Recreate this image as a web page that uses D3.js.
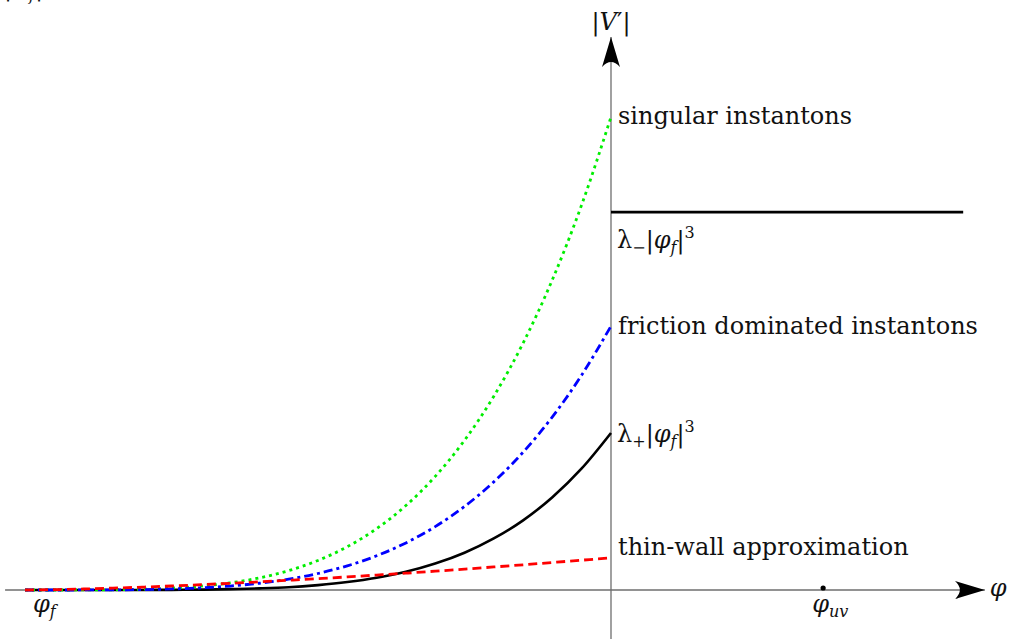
<!DOCTYPE html>
<html>
<head>
<meta charset="utf-8">
<script src="https://cdn.jsdelivr.net/npm/d3@7"></script>
<style>
  body { margin: 0; background: #fff; }
  text { font-family: "DejaVu Serif", "Liberation Serif", serif; fill: #111; }
</style>
</head>
<body>
<svg id="chart" width="1010" height="639"></svg>
<script>
// --- Data ---
// phi measured from 0 (the wall), phi_f = -1
const phiSamples = [-1, -0.95, -0.9, -0.85, -0.8, -0.75, -0.7, -0.65, -0.6, -0.55, -0.5,
  -0.45, -0.4, -0.35, -0.3, -0.25, -0.2, -0.15, -0.1, -0.05, 0];
const singular = [0, 0, 0.0001, 0.0005, 0.0016, 0.0039, 0.0081, 0.015, 0.0256, 0.041, 0.0625,
  0.0915, 0.1296, 0.1785, 0.2401, 0.3164, 0.4096, 0.522, 0.6561, 0.8145, 1.0];
const friction = [0, 0, 0.0001, 0.0003, 0.0009, 0.0022, 0.0045, 0.0084, 0.0143, 0.0229, 0.0349,
  0.0511, 0.0723, 0.0996, 0.134, 0.1766, 0.2286, 0.2913, 0.3661, 0.4545, 0.558];
const lambdaPlus = [0, 0, 0, 0, 0.0001, 0.0003, 0.0008, 0.0019, 0.0034, 0.0058, 0.0104,
  0.0168, 0.0258, 0.0384, 0.0558, 0.0788, 0.109, 0.1473, 0.1961, 0.2569, 0.332];
const thinWall = [0, 0.0008, 0.0021, 0.004, 0.0061, 0.0085, 0.0112, 0.0141, 0.0172, 0.0205, 0.024,
  0.0277, 0.0316, 0.0356, 0.0398, 0.0442, 0.0487, 0.0533, 0.0581, 0.063, 0.068];
const lambdaMinus = 0.799;      // constant level for phi >= 0
const lambdaMinusEnd = 0.601;   // where that line stops
const phiUV = 0.362;

const svg = d3.select("#chart");

const x = d3.scaleLinear().domain([-1, 0]).range([25, 611]);
const y = d3.scaleLinear().domain([0, 1]).range([590, 117]);

const axisColor = "#6e6e6e";

// --- Arrow marker ---
svg.append("defs").append("marker")
  .attr("id", "arrow")
  .attr("viewBox", "0 0 30 20")
  .attr("refX", 30).attr("refY", 10)
  .attr("markerWidth", 30).attr("markerHeight", 20)
  .attr("markerUnits", "userSpaceOnUse")
  .attr("orient", "auto")
  .append("path")
  .attr("d", "M0,1 Q10,10 0,19 L30,10 Z")
  .attr("fill", "#000");

// --- Axes ---
svg.append("line")
  .attr("x1", x(-1.034)).attr("x2", x(0.638))
  .attr("y1", y(0)).attr("y2", y(0))
  .attr("stroke", axisColor).attr("stroke-width", 1.3)
  .attr("marker-end", "url(#arrow)");

svg.append("line")
  .attr("x1", x(0)).attr("x2", x(0))
  .attr("y1", y(-0.104)).attr("y2", y(1.169))
  .attr("stroke", axisColor).attr("stroke-width", 1.3)
  .attr("marker-end", "url(#arrow)");

// --- Curves ---
const line = d3.line()
  .x((d, i) => x(phiSamples[i]))
  .y(d => y(d))
  .curve(d3.curveMonotoneX);

const series = [
  { values: lambdaPlus, color: "#000", dash: null, w: 2.6 },
  { values: singular, color: "#00ee00", dash: "3,4", w: 2.8 },
  { values: friction, color: "#0000ff", dash: "9,4,3,4", w: 2.8 },
  { values: thinWall, color: "#ff0000", dash: "9,5", w: 2.8 }
];

series.forEach(s => {
  svg.append("path")
    .datum(s.values)
    .attr("d", line)
    .attr("fill", "none")
    .attr("stroke", s.color)
    .attr("stroke-width", s.w)
    .attr("stroke-dasharray", s.dash);
});

// lambda_- level
svg.append("line")
  .attr("x1", x(0)).attr("x2", x(lambdaMinusEnd))
  .attr("y1", y(lambdaMinus)).attr("y2", y(lambdaMinus))
  .attr("stroke", "#000").attr("stroke-width", 2.8);

// phi_uv point
svg.append("circle")
  .attr("cx", x(phiUV)).attr("cy", y(0) - 2)
  .attr("r", 2.6).attr("fill", "#000");

// --- Labels ---
const fs = 24, small = "16px";
function label(px, py, anchor) {
  return svg.append("text")
    .attr("x", px).attr("y", py)
    .attr("text-anchor", anchor || "start")
    .style("font-size", fs + "px");
}

label(x(0) + 7, y(1) + 7).text("singular instantons");
label(x(0) + 7, y(0.558) + 8).text("friction dominated instantons");
label(x(0) + 7, y(0.068) - 3).text("thin-wall approximation");

function lamPhi(t, sub) {
  t.append("tspan").text("λ");
  t.append("tspan").attr("dy", 5).style("font-size", small).text(sub);
  t.append("tspan").attr("dy", -5).text("|");
  t.append("tspan").style("font-style", "italic").text("φ");
  t.append("tspan").attr("dy", 5).style("font-size", small).style("font-style", "italic").text("f");
  t.append("tspan").attr("dy", -5).text("|");
  t.append("tspan").attr("dy", -10).style("font-size", small).text("3");
}
lamPhi(label(x(0) + 6, y(0.332) + 9), "+");
lamPhi(label(x(0) + 6, y(lambdaMinus) + 36), "−");

// |V'|
const vt = label(x(0), 30, "middle");
vt.append("tspan").text("|");
vt.append("tspan").style("font-style", "italic").text("V");
vt.append("tspan").text("′|");

// phi axis label
label(x(0.638) + 5, y(0) + 6).style("font-style", "italic").text("φ");

// phi_f
const pf = label(x(-1) + 8, y(0) + 22);
pf.append("tspan").style("font-style", "italic").text("φ");
pf.append("tspan").attr("dy", 5).style("font-size", small).style("font-style", "italic").text("f");

// phi_uv
const pu = label(x(phiUV) - 11, y(0) + 22);
pu.append("tspan").style("font-style", "italic").text("φ");
pu.append("tspan").attr("dy", 5).style("font-size", small).style("font-style", "italic").text("uv");

// label remnant at the top-left corner (cut by the edge, as in the original)
const tl = label(-4, -5);
tl.append("tspan").text("/|");
tl.append("tspan").style("font-style", "italic").text("φ");
tl.append("tspan").attr("dy", 5).style("font-size", small).style("font-style", "italic").text("f");
tl.append("tspan").attr("dy", -5).text("|");
</script>
</body>
</html>
